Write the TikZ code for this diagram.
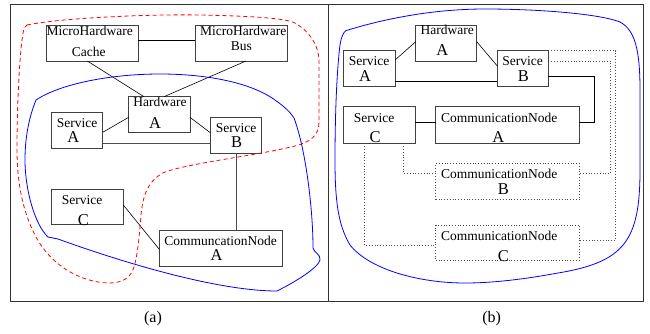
\documentclass[tikz,border=0pt]{standalone}
\usepackage{fontspec}
\setmainfont{Liberation Serif}
\begin{document}
\begin{tikzpicture}[x=1pt,y=-1pt,
  box/.style={draw=black!75, line width=0.8pt, inner sep=0, outer sep=0},
  dbox/.style={draw=black!70, line width=0.8pt, dotted, inner sep=0, outer sep=0},
  lbl/.style={anchor=base, inner sep=0, font=\fontsize{13.5}{15}\selectfont},
  big/.style={anchor=base, inner sep=0, font=\fontsize{16.5}{18}\selectfont},
  subcap/.style={anchor=base, inner sep=0, font=\fontsize{16}{18}\selectfont},
  link/.style={draw=black, line width=0.6pt},
  glink/.style={draw=black!70, line width=0.9pt},
  dlink/.style={draw=black!70, line width=0.8pt, dotted},
  frame/.style={draw=black!80, line width=1pt},
  zone/.style={draw=blue, line width=0.8pt},
  rzone/.style={draw=red, line width=0.8pt, dash pattern=on 4pt off 3pt}]

\useasboundingbox (0,0) rectangle (650,333);

% panel frames
\draw[frame] (10.5,4.7) rectangle (643,301.7);
\draw[frame] (328.5,4.7) -- (328.5,301.7);

% ---------------- panel (a) ----------------
\node[box, minimum width=92pt, minimum height=36pt] (mc) at (92.3,43) {};
\node[box, minimum width=92.3pt, minimum height=36pt] (mb) at (241.2,43) {};
\node[box, minimum width=61.3pt, minimum height=36pt] (hwL) at (159.3,114.7) {};
\node[box, minimum width=51.4pt, minimum height=35.7pt] (saL) at (77,130.2) {};
\node[box, minimum width=51.4pt, minimum height=36pt] (sbL) at (236,135.3) {};
\node[box, minimum width=72pt, minimum height=35.7pt] (scL) at (87.3,206.8) {};
\node[box, minimum width=123pt, minimum height=36pt] (cnL) at (220.8,248) {};

\node[lbl] (mc1) at (89.8,35) {MicroHardware};
\node[lbl] (mc2) at (88.8,56) {Cache};
\node[lbl] (mb1) at (243.3,35) {MicroHardware};
\node[lbl] (mb2) at (241.3,50.7) {Bus};
\node[lbl] (hwL1) at (160,106.7) {Hardware};
\node[big] (hwL2) at (155,128.3) {A};
\node[lbl] (saL1) at (77,127.7) {Service};
\node[big] (saL2) at (73.3,142.7) {A};
\node[lbl] (sbL1) at (236,132.3) {Service};
\node[big] (sbL2) at (236.7,147.7) {B};
\node[lbl] (scL1) at (82,204.3) {Service};
\node[big] (scL2) at (83.3,225) {C};
\node[lbl] (cnL1) at (220.7,245) {CommuncationNode};
\node[big] (cnL2) at (216.7,260.7) {A};

\draw[link] ([yshift=2.3pt]mc.east) -- ([yshift=2.3pt]mb.west);
\draw[link] ([xshift=-5pt]mc.south) -- ([xshift=-15.3pt]hwL.north);
\draw[link] ([xshift=4.8pt]mb.south) -- ([xshift=4.7pt]hwL.north);
\draw[link] ([yshift=-2.6pt]hwL.west) -- ([yshift=-2.1pt]saL.east);
\draw[link] ([yshift=-2.6pt]hwL.east) -- ([yshift=2.6pt]sbL.west);
\draw[glink] ([yshift=-13.1pt]saL.east) -- ([yshift=-13.1pt]saL.east -| sbL.west);
\draw[glink] (sbL.south) -- (sbL.south |- cnL.north);
\draw[link] ([yshift=1.8pt]scL.east) -- ([yshift=-1.3pt]cnL.west);

% domains of panel (a)
\draw[zone] (36,100) .. controls (60,84) and (110,74) .. (160,74)
  .. controls (205,74) and (250,82) .. (275,100)
  .. controls (285,107) and (291,113) .. (294,118)
  .. controls (306,150) and (313,210) .. (313,248)
  .. controls (314,253) and (321,254) .. (320,260)
  .. controls (318,268) and (295,282) .. (277,291)
  .. controls (220,291) and (130,265) .. (58,239)
  -- (48,237)
  .. controls (35,225) and (25,190) .. (25,160)
  .. controls (25,130) and (32,110) .. (36,100) -- cycle;

\draw[rzone] (27,25) .. controls (60,18) and (150,14) .. (200,15)
  .. controls (250,16) and (285,18) .. (295,23)
  .. controls (310,32) and (319,45) .. (319,62)
  -- (319,122)
  .. controls (319,136) and (310,142) .. (295,146)
  .. controls (260,155) and (190,163) .. (165,172)
  .. controls (148,180) and (143,195) .. (141,215)
  .. controls (139,240) and (137,262) .. (132,272)
  .. controls (127,280) and (120,283) .. (108,283)
  .. controls (80,282) and (50,265) .. (35,235)
  .. controls (22,210) and (17,180) .. (17,150)
  .. controls (17,100) and (20,50) .. (23,33)
  .. controls (24,28) and (25,26) .. (27,25) -- cycle;

\node[subcap] (capa) at (153,322.7) {(a)};

% ---------------- panel (b) ----------------
\node[box, minimum width=61pt, minimum height=36pt] (hwR) at (446.2,43) {};
\node[box, minimum width=51.7pt, minimum height=36pt] (saR) at (369.2,68.7) {};
\node[box, minimum width=51pt, minimum height=36pt] (sbR) at (522.8,68.7) {};
\node[box, minimum width=71.7pt, minimum height=36.6pt] (scR) at (379.2,125) {};
\node[box, minimum width=143.6pt, minimum height=36.6pt] (cnAR) at (507.5,125) {};
\node[dbox, minimum width=143.6pt, minimum height=36pt] (cnBR) at (507.5,181.3) {};
\node[dbox, minimum width=143.6pt, minimum height=35pt] (cnCR) at (507.5,242.5) {};

\node[lbl] (hwR1) at (447.2,34.3) {Hardware};
\node[big] (hwR2) at (442.3,55.7) {A};
\node[lbl] (saR1) at (369,65.7) {Service};
\node[big] (saR2) at (365,81.7) {A};
\node[lbl] (sbR1) at (522.7,65.7) {Service};
\node[big] (sbR2) at (523.3,81.7) {B};
\node[lbl] (scR1) at (374.2,122.7) {Service};
\node[big] (scR2) at (375,142.7) {C};
\node[lbl] (cnAR1) at (499.3,122.7) {CommunicationNode};
\node[big] (cnAR2) at (498.3,142.7) {A};
\node[lbl] (cnBR1) at (499.3,178.3) {CommunicationNode};
\node[big] (cnBR2) at (503.3,194) {B};
\node[lbl] (cnCR1) at (499.3,240) {CommunicationNode};
\node[big] (cnCR2) at (503.3,261.7) {C};

\draw[link] ([yshift=8.7pt]saR.east) -- ([yshift=1.3pt]hwR.west);
\draw[link] ([yshift=1.3pt]hwR.east) -- ([yshift=2.7pt]sbR.west);
\draw[link] ([yshift=-12.3pt]saR.east) -- ([yshift=-12.3pt]saR.east -| sbR.west);
\draw[link] ([yshift=-7.3pt]sbR.east) -- ++(46,0) |- ([yshift=2.7pt]cnAR.east);
\draw[link] ([yshift=2.7pt]scR.east) -- ([yshift=2.7pt]scR.east -| cnAR.west);

\draw[dlink] (sbR.north east) -- ++(67.4,0) |- ([yshift=2.5pt]cnCR.east);
\draw[dlink] ([yshift=7.7pt]sbR.east) -- ++(62.4,0) |- ([yshift=8pt]cnBR.east);
\draw[dlink] ([xshift=-14.9pt]scR.south) |- ([yshift=-2.5pt]cnCR.west);
\draw[dlink] ([xshift=24.1pt]scR.south) |- ([yshift=8pt]cnBR.west);

% domain of panel (b)
\draw[zone] (345.7,30.7) .. controls (380,20) and (430,9) .. (485,9)
  .. controls (540,9) and (600,14) .. (620,22)
  .. controls (635,30) and (640,50) .. (640,90)
  -- (640,170)
  .. controls (640,240) and (625,262) .. (558,273)
  .. controls (520,280) and (490,283) .. (465,283)
  .. controls (420,283) and (370,270) .. (350,245)
  .. controls (338,225) and (335,200) .. (335,160)
  .. controls (335,100) and (338,60) .. (340,45)
  .. controls (341,38) and (343,33) .. (345.7,30.7) -- cycle;

\node[subcap] (capb) at (491.7,322.7) {(b)};
\end{tikzpicture}
\end{document}
